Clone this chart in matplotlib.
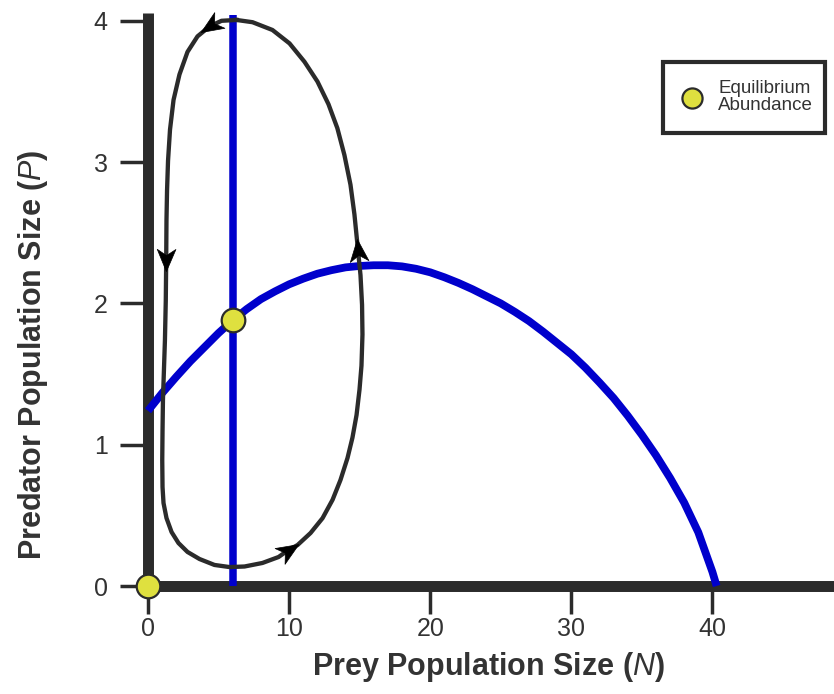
#!/usr/bin/env python
# -*- coding: utf-8 -*-

"""
Predator-prey phase plane: prey and predator zero-growth isoclines,
a closed population cycle and the equilibrium points.
"""

import numpy as np
import matplotlib
matplotlib.use('Agg')
import matplotlib.pyplot as plt
from matplotlib.path import Path
from matplotlib.markers import MarkerStyle
from matplotlib.transforms import Affine2D
from matplotlib.patches import Rectangle
from matplotlib.lines import Line2D


#==============================================================================

# prey isocline (hump shaped), N vs P
prey_N = [0, 1, 2, 3, 4, 5, 6, 7, 8, 9, 10, 11, 12, 13, 14, 15, 16, 17,
          18, 19, 20, 21, 22, 23, 24, 25, 26, 27, 28, 29, 30, 31, 32, 33,
          34, 35, 36, 37, 38, 39, 40, 40.3]
prey_P = [1.24, 1.365, 1.48, 1.59, 1.69, 1.79, 1.88, 1.96, 2.03, 2.085,
          2.135, 2.175, 2.21, 2.235, 2.255, 2.265, 2.27, 2.27, 2.262, 2.245,
          2.22, 2.185, 2.145, 2.10, 2.05, 2.00, 1.94, 1.875, 1.80, 1.72,
          1.64, 1.545, 1.44, 1.33, 1.205, 1.07, 0.925, 0.765, 0.59, 0.38,
          0.10, 0.0]

# predator isocline (vertical)
pred_N = [6.0, 6.0]
pred_P = [0.0, 4.04]

# population cycle, counter-clockwise from the top
cycle_N = [6.27, 5.21, 4.36, 3.51, 2.80, 2.23, 1.81, 1.56, 1.42, 1.35,
           1.31, 1.29, 1.26, 1.20, 1.13, 1.06, 1.03, 1.01, 1.03, 1.10,
           1.31, 1.67, 2.16, 2.80, 3.65, 4.71, 5.78, 6.84, 8.11, 9.25,
           9.96, 10.60, 11.52, 12.37, 13.08, 13.64, 14.14, 14.49, 14.78,
           14.99, 15.13, 15.20, 15.17, 15.06, 14.88, 14.63, 14.35, 13.92,
           13.42, 12.79, 12.01, 11.09, 10.03, 8.82, 7.41, 6.27]
cycle_P = [4.006, 4.00, 3.96, 3.89, 3.78, 3.62, 3.44, 3.23, 3.01, 2.80,
           2.59, 2.31, 2.02, 1.74, 1.53, 1.32, 1.10, 0.89, 0.70, 0.587,
           0.481, 0.382, 0.304, 0.241, 0.191, 0.149, 0.134, 0.138, 0.163,
           0.205, 0.255, 0.29, 0.375, 0.48, 0.61, 0.75, 0.906, 1.05, 1.21,
           1.39, 1.56, 1.78, 1.99, 2.20, 2.38, 2.63, 2.84, 3.05,
           3.24, 3.41, 3.57, 3.71, 3.84, 3.935, 3.99, 4.006]

# where along the cycle the direction arrows sit
arrow_idx = [2, 11, 30, 44]

# equilibrium abundances
eq_N = [6.0, 0.0]
eq_P = [1.88, 0.0]

x_ticks = [0, 10, 20, 30, 40]
y_ticks = [0, 1, 2, 3, 4]

dark = '#2b2b2b'
blue = '#0000cc'
yellow = '#dfe03f'


#==============================================================================

def stealth_marker(angle):

	"""
	Arrow head shaped marker pointing along angle (degrees)
	"""

	verts = [(0.5, 0.0), (-0.5, 0.42), (-0.22, 0.0), (-0.5, -0.42), (0.5, 0.0)]
	codes = [Path.MOVETO, Path.LINETO, Path.LINETO, Path.LINETO, Path.CLOSEPOLY]
	path = Path(verts, codes)

	return MarkerStyle(path, transform=Affine2D().rotate_deg(angle))


def main():

	plt.rcParams['font.family'] = ['Liberation Sans', 'DejaVu Sans']
	plt.rcParams['mathtext.fontset'] = 'custom'
	plt.rcParams['mathtext.rm'] = 'Liberation Sans'
	plt.rcParams['mathtext.it'] = 'Liberation Sans:italic'

	fig = plt.figure(figsize=(8.34, 6.94), dpi=100)
	fig.patch.set_facecolor('white')

	W, H = 834., 694.
	ax = fig.add_axes([148 / W, (H - 586) / H, (W - 148) / W, 573 / H])
	ax.set_xlim(0, 686 / 14.11)
	ax.set_ylim(0, 573 / 141.3)

	for side in ['top', 'right']:
		ax.spines[side].set_visible(False)
	for side in ['left', 'bottom']:
		ax.spines[side].set_linewidth(7.9)
		ax.spines[side].set_color(dark)
		ax.spines[side].set_capstyle('butt')
		ax.spines[side].set_zorder(1)

	ax.set_xticks(x_ticks)
	ax.set_yticks(y_ticks)
	ax.tick_params(direction='out', length=20, width=2.5, color=dark,
				   labelsize=18, labelcolor='#333333')
	ax.tick_params(axis='x', pad=2.5)
	ax.tick_params(axis='y', pad=9)

	# isoclines
	ax.plot(pred_N, pred_P, color=blue, lw=5.4, solid_capstyle='butt',
			clip_on=False, zorder=2)
	ax.plot(prey_N, prey_P, color=blue, lw=5.6, solid_capstyle='butt',
			solid_joinstyle='round', clip_on=False, zorder=2)

	# population cycle
	ax.plot(cycle_N, cycle_P, color=dark, lw=3.1, solid_joinstyle='round',
			clip_on=False, zorder=3)

	fig.canvas.draw()
	for i in arrow_idx:
		p0 = ax.transData.transform((cycle_N[i - 1], cycle_P[i - 1]))
		p1 = ax.transData.transform((cycle_N[i + 1], cycle_P[i + 1]))
		ang = np.degrees(np.arctan2(p1[1] - p0[1], p1[0] - p0[0]))
		ax.plot(cycle_N[i], cycle_P[i], ls='none', marker=stealth_marker(ang),
				ms=16, color='black', mec='black', mew=0.5, clip_on=False,
				zorder=4)

	# equilibria
	ax.plot(eq_N, eq_P, ls='none', marker='o', ms=17, mfc=yellow, mec=dark,
			mew=1.6, clip_on=False, zorder=5)

	# axis labels
	fig.text(488 / W, 1 - 667 / H, 'Prey Population Size ($\\mathit{N}$)',
			 ha='center', va='center', fontsize=22, fontweight='bold',
			 color='#333333')
	fig.text(33 / W, 1 - 355 / H, 'Predator Population Size ($\\mathit{P}$)',
			 ha='center', va='center', rotation=90, fontsize=22,
			 fontweight='bold', color='#333333')

	# key box
	fig.add_artist(Rectangle((663 / W, 1 - 133 / H), 162 / W, 71 / H,
							 transform=fig.transFigure, facecolor='white',
							 edgecolor=dark, lw=3))
	fig.add_artist(Line2D([692 / W], [1 - 98 / H], transform=fig.transFigure,
						  ls='none', marker='o', ms=14.5, mfc=yellow, mec=dark,
						  mew=1.6))
	fig.text(718 / W, 1 - 97 / H, 'Equilibrium\nAbundance', ha='left',
			 va='center', fontsize=13.5, color='#333333', linespacing=1.05)

	fig.savefig('out.png', dpi=100, facecolor='white')


if __name__ == "__main__":

	main()
